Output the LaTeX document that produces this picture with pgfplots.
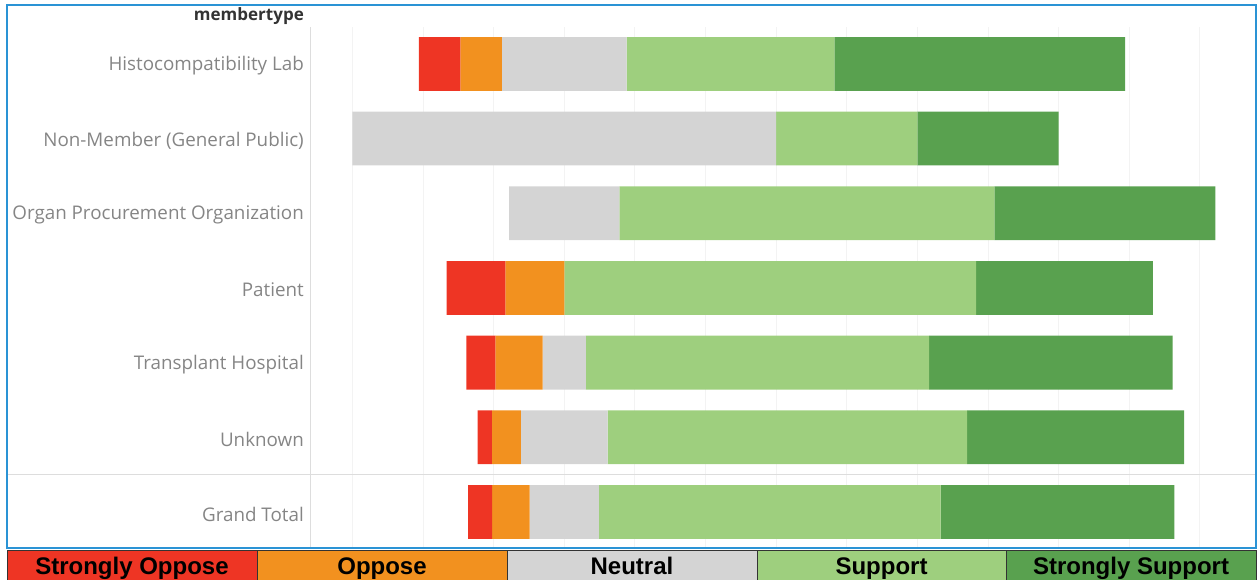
\documentclass[border=0pt]{standalone}
\usepackage{fontspec}
\setmainfont{Open Sans}
\newfontfamily\legendfont{Liberation Sans}
\usepackage{pgfplots}
\usepackage{pgfplotstable}
\pgfplotsset{compat=1.18}

\definecolor{sopp}{HTML}{EE3524}
\definecolor{opp}{HTML}{F2911F}
\definecolor{neu}{HTML}{D4D4D4}
\definecolor{sup}{HTML}{9ECF7E}
\definecolor{ssup}{HTML}{59A14F}
\definecolor{framec}{HTML}{2A93D5}
\definecolor{labelc}{HTML}{858585}
\definecolor{headc}{HTML}{333333}
\definecolor{gridc}{HTML}{F3F3F3}
\definecolor{sepc}{HTML}{DDDDDD}

% share of responses (percent) per member type; cat 0 = Grand Total at the bottom
\pgfplotstableread{
cat SO   O    N     S     SS
6   5.88 5.88 17.65 29.41 41.18
5   0    0    60.0  20.0  20.0
4   0    0    15.6  53.1  31.3
3   8.33 8.33 0     58.33 25.0
2   4.1  6.7  6.1   48.6  34.5
1   2.0  4.1  12.3  50.9  30.7
0   3.4  5.3  9.8   48.4  33.1
}\survey

\begin{document}
\begin{tikzpicture}[x=1pt,y=1pt]
\path[use as bounding box] (0,0) rectangle (1259,579);
\begin{axis}[
  at={(310pt,29.7pt)}, anchor=south west,
  scale only axis, width=945pt, height=522.7pt,
  xmin=-36.0, xmax=97.8, ymin=-0.5, ymax=6.5,
  xbar stacked, stack negative=on previous, bar width=0.72,
  axis line style={draw=none},
  xtick={-30,-20,...,90}, xticklabels={},
  xmajorgrids, grid style={color=gridc, line width=1pt},
  major tick length=0pt,
  ytick={0,...,6},
  yticklabels={Grand Total, Unknown, Transplant Hospital, Patient,
    Organ Procurement Organization, Non-Member (General Public),
    Histocompatibility Lab},
  yticklabel style={font=\fontsize{18.8}{21}\selectfont, color=labelc, inner sep=0pt, xshift=-6pt, yshift=-2pt},
]
% invisible spacer centres the neutral block on zero
\addplot[draw=none, fill=none] table[x expr={-(\thisrow{SO}+\thisrow{O}+0.5*\thisrow{N})}, y=cat] {\survey};
\addplot[fill=sopp, draw=none] table[x=SO, y=cat] {\survey};
\addplot[fill=opp,  draw=none] table[x=O,  y=cat] {\survey};
\addplot[fill=neu,  draw=none] table[x=N,  y=cat] {\survey};
\addplot[fill=sup,  draw=none] table[x=S,  y=cat] {\survey};
\addplot[fill=ssup, draw=none] table[x=SS, y=cat] {\survey};
\end{axis}
% pane divider and total separator
\draw[sepc, line width=1pt] (310,31) -- (310,552);
\draw[sepc, line width=1.2pt] (8,104.3) -- (1256,104.3);
% header
\node[anchor=base east, inner sep=0pt, text=headc, font=\fontsize{17}{19}\selectfont\bfseries] at (304,558) {membertype};
% frame
\draw[framec, line width=2pt] (7,31) rectangle (1256,574);
% colour legend strip
\begin{scope}[every node/.style={font=\legendfont\fontsize{24}{26}\selectfont\bfseries, anchor=base, inner sep=0pt}]
\draw[fill=sopp, draw=headc, line width=1pt] (7,-2) rectangle (257,29);
\draw[fill=opp,  draw=headc, line width=1pt] (257,-2) rectangle (507,29);
\draw[fill=neu,  draw=headc, line width=1pt] (507,-2) rectangle (757,29);
\draw[fill=sup,  draw=headc, line width=1pt] (757,-2) rectangle (1006,29);
\draw[fill=ssup, draw=headc, line width=1pt] (1006,-2) rectangle (1256,29);
\node at (132,4.5) {Strongly Oppose};
\node at (382,4.5) {Oppose};
\node at (632,4.5) {Neutral};
\node at (881.5,4.5) {Support};
\node at (1131,4.5) {Strongly Support};
\end{scope}
\end{tikzpicture}
\end{document}
